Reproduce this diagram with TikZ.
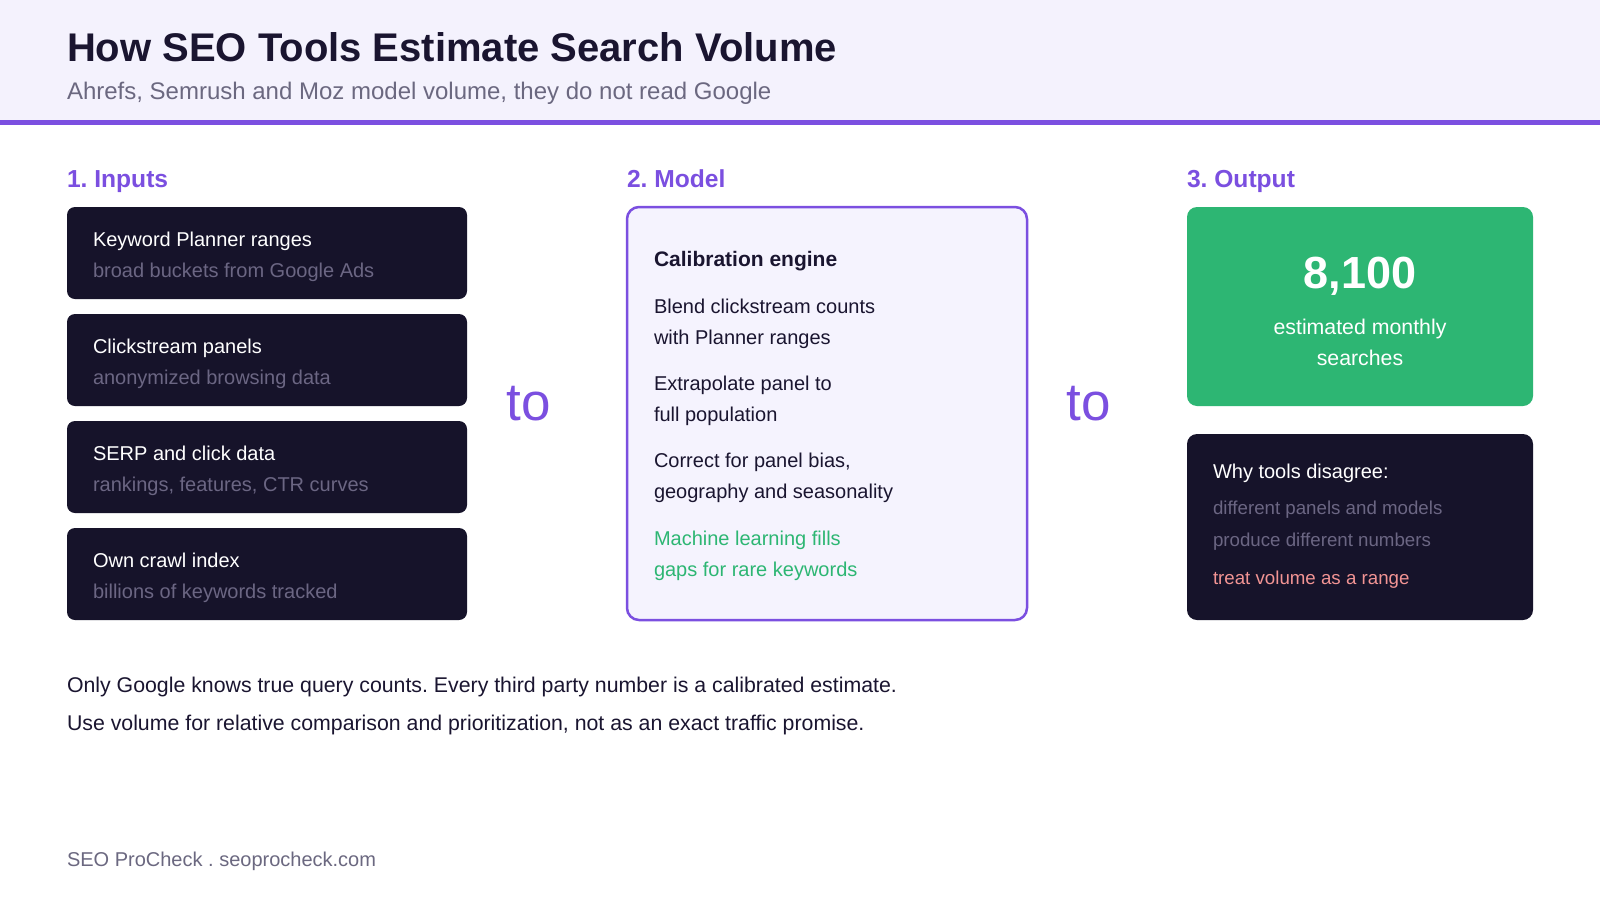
\documentclass[tikz,border=0pt]{standalone}
\usepackage{fontspec}
\setmainfont{Liberation Sans}
\definecolor{hdrbg}{HTML}{F4F2FD}
\definecolor{purp}{HTML}{7B4FE0}
\definecolor{darkbox}{HTML}{16132A}
\definecolor{subgrey}{HTML}{6B6683}
\definecolor{ink}{HTML}{1A1530}
\definecolor{greyt}{HTML}{6B6880}
\definecolor{greenbox}{HTML}{2DB673}
\definecolor{pinkt}{HTML}{F29494}
\definecolor{modelbg}{HTML}{F5F3FE}
\definecolor{greent}{HTML}{2DB673}
\newcommand\myfs[1]{\fontsize{#1}{#1}\selectfont}
\frenchspacing
\begin{document}
\begin{tikzpicture}[x=1pt,y=-1pt,
  txt/.style={anchor=base west, inner sep=0pt, outer sep=0pt},
  ctxt/.style={anchor=base, inner sep=0pt, outer sep=0pt},
  inbox/.style={fill=darkbox, rounded corners=8pt},
  heading/.style={txt, text=purp, font=\myfs{24.6}\bfseries},
  intitle/.style={txt, text=white, font=\myfs{20}},
  insub/.style={txt, text=subgrey, font=\myfs{20}},
  modeltxt/.style={txt, text=ink, font=\myfs{20}},
  whytxt/.style={txt, font=\myfs{18.7}},
  arrowtxt/.style={ctxt, text=purp, font=\myfs{53}}]
\useasboundingbox (0,0) rectangle (1600,900);
\fill[white] (0,0) rectangle (1600,900);
% header
\fill[hdrbg] (0,0) rectangle (1600,120);
\fill[purp] (0,120) rectangle (1600,125);
\node[txt, text=ink, font=\myfs{40}\bfseries] (title) at (67,61) {How SEO Tools Estimate Search Volume};
\node[txt, text=greyt, font=\myfs{24}] (subtitle) at (67,99) {Ahrefs, Semrush and Moz model volume, they do not read Google};
% headings
\node[heading] (h1) at (67,187) {1. Inputs};
\node[heading] (h2) at (627,187) {2. Model};
\node[heading] (h3) at (1187,187) {3. Output};
% input boxes
\foreach \i/\t/\s in {0/Keyword Planner ranges/broad buckets from Google Ads,
                      1/Clickstream panels/anonymized browsing data,
                      2/SERP and click data/{rankings, features, CTR curves},
                      3/Own crawl index/billions of keywords tracked}{
  \pgfmathsetmacro{\yy}{207+107*\i}
  \fill[inbox] (67,\yy) rectangle (467,\yy+92);
  \node[intitle] (in\i t) at (93,\yy+39) {\t};
  \node[insub] (in\i s) at (93,\yy+70) {\s};
}
% arrows "to"
\node[arrowtxt] (to1) at (529,420) {to};
\node[arrowtxt] (to2) at (1089,420) {to};
% model box
\draw[purp, line width=2.5pt, fill=modelbg, rounded corners=12pt] (627,207) rectangle (1027,620);
\node[modeltxt, font=\myfs{21}\bfseries] (m0) at (654,266) {Calibration engine};
\node[modeltxt] (m1) at (654,313) {Blend clickstream counts};
\node[modeltxt] (m2) at (654,344) {with Planner ranges};
\node[modeltxt] (m3) at (654,390) {Extrapolate panel to};
\node[modeltxt] (m4) at (654,421) {full population};
\node[modeltxt] (m5) at (654,467) {Correct for panel bias,};
\node[modeltxt] (m6) at (654,498) {geography and seasonality};
\node[modeltxt, text=greent] (m7) at (654,545) {Machine learning fills};
\node[modeltxt, text=greent] (m8) at (654,576) {gaps for rare keywords};
% output
\fill[greenbox, rounded corners=10pt] (1187,207) rectangle (1533,406);
\node[ctxt, text=white, font=\myfs{45}\bfseries] (num) at (1360,288) {8,100};
\node[ctxt, text=white, font=\myfs{21.3}] (est1) at (1360,334) {estimated monthly};
\node[ctxt, text=white, font=\myfs{21.3}] (est2) at (1360,365) {searches};
\fill[inbox, rounded corners=10pt] (1187,434) rectangle (1533,620);
\node[txt, text=white, font=\myfs{20}] (why) at (1213,478) {Why tools disagree:};
\node[whytxt, text=subgrey] (w1) at (1213,514) {different panels and models};
\node[whytxt, text=subgrey] (w2) at (1213,546) {produce different numbers};
\node[whytxt, text=pinkt] (w3) at (1213,584) {treat volume as a range};
% bottom notes
\node[txt, text=ink, font=\myfs{21.3}] (n1) at (67,692) {Only Google knows true query counts. Every third party number is a calibrated estimate.};
\node[txt, text=ink, font=\myfs{21.3}] (n2) at (67,730) {Use volume for relative comparison and prioritization, not as an exact traffic promise.};
\node[txt, text=greyt, font=\myfs{20}] (foot) at (67,866) {SEO ProCheck . seoprocheck.com};
\end{tikzpicture}
\end{document}
